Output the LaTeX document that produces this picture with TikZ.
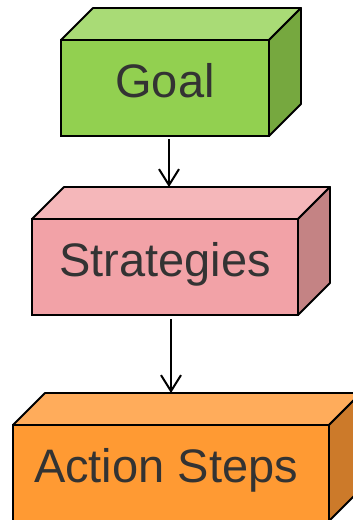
\documentclass[tikz,border=0pt]{standalone}
\usepackage{fontspec}
\setmainfont{Liberation Sans}
\usepackage{tikz}
\usetikzlibrary{positioning,arrows.meta,calc}
\definecolor{ink}{HTML}{333333}
\definecolor{goalfront}{HTML}{92D050}
\definecolor{goaltop}{HTML}{A9DB76}
\definecolor{goalside}{HTML}{76A83F}
\definecolor{stratfront}{HTML}{F2A2A7}
\definecolor{strattop}{HTML}{F5B7BA}
\definecolor{stratside}{HTML}{C48384}
\definecolor{actfront}{HTML}{FF9A33}
\definecolor{acttop}{HTML}{FFAC5B}
\definecolor{actside}{HTML}{CC7A2A}
\tikzset{
  face/.style={draw=black,line width=1.8pt,outer sep=0pt,minimum height=96pt,
    text=ink,font=\fontsize{47pt}{56pt}\selectfont,text height=34pt,text depth=16pt},
  goalbox/.style={face,fill=goalfront,minimum width=208pt},
  stratbox/.style={face,fill=stratfront,minimum width=266pt},
  actbox/.style={face,fill=actfront,minimum width=316pt},
  flow/.style={-{Straight Barb[length=16pt,width=20pt]},draw=black,line width=2pt}}
% top and right faces of a box: node, top colour, side colour
\newcommand{\boxsides}[3]{%
  \filldraw[fill=#2,line width=1.8pt,line join=round] (#1.north west) -- ++(32,32)
    -- ([shift={(32,32)}]#1.north east) -- (#1.north east) -- cycle;
  \filldraw[fill=#3,line width=1.8pt,line join=round] (#1.north east) -- ++(32,32)
    -- ([shift={(32,32)}]#1.south east) -- (#1.south east) -- cycle;
  \coordinate (#1-top) at ([shift={(32,32)}]#1.north);}

\begin{document}
\begin{tikzpicture}[x=1pt,y=1pt]
  \clip (0,0) rectangle (353,-520);
  \node[goalbox] (goal) at (165,-88) {Goal};
  \boxsides{goal}{goaltop}{goalside}
  \node[stratbox] (strat) at (165,-267) {Strategies};
  \boxsides{strat}{strattop}{stratside}
  \node[actbox] (act) at (171,-473) {\hspace*{-10pt}Action Steps};
  \boxsides{act}{acttop}{actside}
  \draw[flow,shorten <=3pt] ([xshift=4pt]goal.south) -- ([xshift=4pt]goal.south |- strat-top);
  \draw[flow,shorten <=4pt] ([xshift=6pt]strat.south) -- ([xshift=6pt]strat.south |- act-top);
\end{tikzpicture}
\end{document}
